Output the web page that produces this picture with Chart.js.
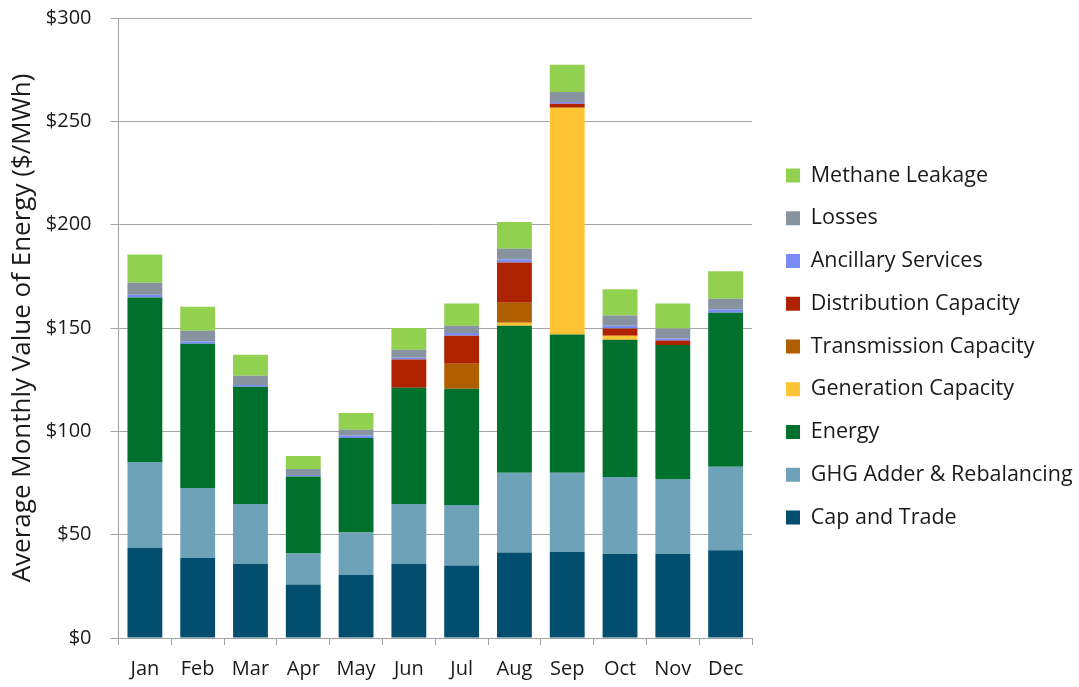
<!DOCTYPE html>
<html><head><meta charset="utf-8">
<script src="https://cdn.jsdelivr.net/npm/chart.js@4"></script>
<style>html,body{margin:0;padding:0;background:#fff}#wrap{width:1079px;height:687px}</style>
</head><body><div id="wrap"><canvas id="c" width="1079" height="687"></canvas></div>
<script>
const months = ["Jan","Feb","Mar","Apr","May","Jun","Jul","Aug","Sep","Oct","Nov","Dec"];
const capAndTrade   = [43.5,38.7,35.8,25.9,30.5,35.8,35.1,41.4,41.6,40.6,40.6,42.4];
const ghgAdder      = [41.7,33.9,29.0,15.0,20.6,29.0,29.3,38.6,38.4,37.3,36.3,40.5];
const energy        = [79.5,69.8,56.8,37.3,45.7,56.3,56.2,71.1,66.8,66.4,64.9,74.5];
const generationCap = [0,0,0,0,0,0,0,1.5,109.8,2.0,0,0];
const transmissionCap=[0,0,0,0,0,0,12.1,9.6,0,0,0,0];
const distributionCap=[0,0,0,0,0,13.6,13.6,19.5,1.9,3.4,2.2,0];
const ancillary     = [1.4,1.1,0.8,0.7,1.2,0.9,1.3,1.5,0.8,1.4,0.9,1.6];
const losses        = [5.8,5.2,4.5,2.9,2.8,3.9,3.5,5.2,4.9,4.9,4.8,5.2];
const methane       = [13.7,11.6,10.2,6.3,8.1,10.5,10.7,12.9,13.2,12.7,12.1,13.2];
const yTicks = [0,50,100,150,200,250,300];

const series = [
  ["Cap and Trade", capAndTrade, "#034E6E"],
  ["GHG Adder & Rebalancing", ghgAdder, "#6EA2B8"],
  ["Energy", energy, "#00702D"],
  ["Generation Capacity", generationCap, "#FFC433"],
  ["Transmission Capacity", transmissionCap, "#B05F00"],
  ["Distribution Capacity", distributionCap, "#AE2200"],
  ["Ancillary Services", ancillary, "#7A8BF5"],
  ["Losses", losses, "#8893A0"],
  ["Methane Leakage", methane, "#92D050"]
];
const FONT = "'Open Sans', Lato, sans-serif";
const LEGEND_W = 327, LEGEND_BOX_X = 786, LEGEND_SHIFT_Y = 3;

const legendPlacer = {
  id: 'legendPlacer',
  beforeInit(chart) {
    const lg = chart.legend;
    if (!lg) return;
    const fit = lg.fit.bind(lg);
    lg.fit = function () { fit(); this.width = LEGEND_W; };
  },
  afterLayout(chart) {
    const lg = chart.legend;
    const pad = lg.options.labels.padding;
    lg.left = LEGEND_BOX_X - pad;
    lg.top += LEGEND_SHIFT_Y; lg.bottom += LEGEND_SHIFT_Y;
  }
};

new Chart(document.getElementById('c'), {
  type: 'bar',
  data: {
    labels: months,
    datasets: series.map(s => ({label: s[0], data: s[1], backgroundColor: s[2], borderWidth: 0,
      categoryPercentage: 1.0, barPercentage: 0.66}))
  },
  plugins: [legendPlacer],
  options: {
    responsive: false, animation: false, devicePixelRatio: 1,
    layout: {padding: {top: 0, right: 0, left: 0, bottom: 0}},
    plugins: {
      legend: {position: 'right', reverse: true, align: 'center',
        labels: {boxWidth: 14, boxHeight: 14, padding: 21.25, color: '#1a1a1a', font: {family: FONT, size: 21.5}}},
      tooltip: {enabled: false}
    },
    scales: {
      x: {stacked: true,
        afterFit: s => { s.height = 49; },
        grid: {offset: true, drawOnChartArea: false, drawTicks: true, tickLength: 7, color: '#A0A0A0'},
        border: {color: '#A0A0A0'},
        ticks: {color: '#1a1a1a', font: {family: FONT, size: 20}, padding: 12}},
      y: {stacked: true, min: 0, max: 300,
        afterFit: s => { s.width = 118.5; s.paddingTop = 18; s.paddingBottom = 12; },
        afterBuildTicks: ax => { ax.ticks = yTicks.map(v => ({value: v})); },
        grid: {color: '#A6A6A6', tickLength: 8},
        border: {color: '#A0A0A0'},
        ticks: {color: '#1a1a1a', font: {family: FONT, size: 20}, padding: 19, callback: v => '$' + v},
        title: {display: true, text: 'Average Monthly Value of Energy ($/MWh)', color: '#1a1a1a',
          font: {family: FONT, size: 26}, padding: {top: 7, bottom: 0}}}
    }
  }
});
</script></body></html>
